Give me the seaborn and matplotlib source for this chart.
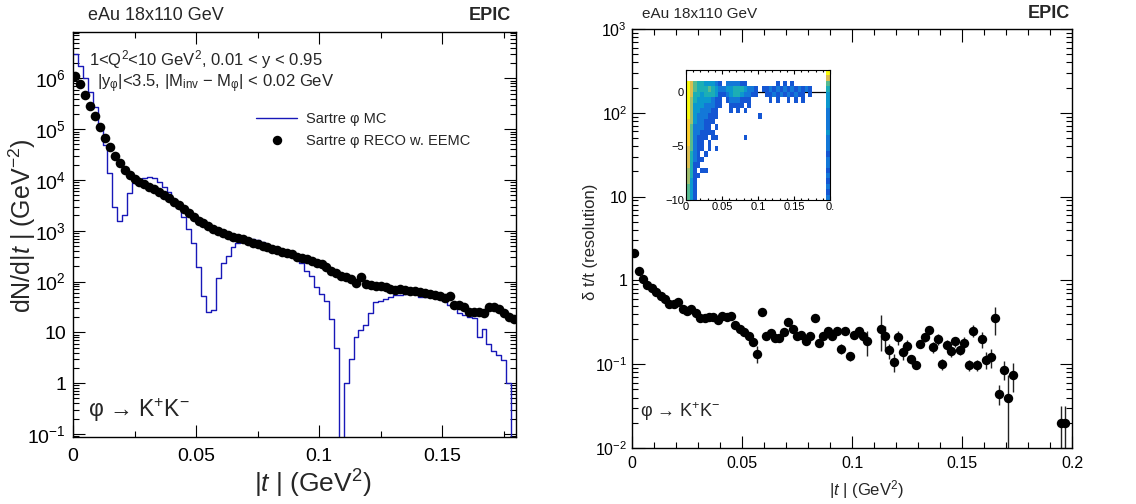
import numpy as np
import pandas as pd
import matplotlib
matplotlib.use("Agg")
import matplotlib.pyplot as plt
from matplotlib.lines import Line2D
from matplotlib.colors import LinearSegmentedColormap
from matplotlib.ticker import FixedLocator, FixedFormatter, LogLocator, MultipleLocator, NullFormatter
import seaborn as sns

# ---------------- left panel: dN/d|t|, 0.002 GeV^2 bins from 0 to 0.18 ----------------
t_bin_width = 0.002
n_bins = 90

# Sartre phi MC (blue histogram)
mc_counts = [3.0e6, 1.78e6, 1.0e6, 5.5e5, 2.7e5, 1.17e5, 4.9e4, 1.35e4, 2990, 1550,
             2040, 5620, 8590, 10300, 10800, 11600, 10800, 9000, 7400, 5890,
             4050, 2750, 1900, 1070, 568, 197, 51, 25, 28, 116,
             229, 320, 489, 568, 612, 661, 681, 661, 612, 525,
             432, 389, 363, 339, 316, 282, 229, 158, 126, 79,
             56, 42, 18, 5, 0, 1, 3, 8, 11, 14,
             24, 39, 42, 46, 50, 54, 55, 57, 59, 60,
             50, 50, 55, 49, 45, 41, 35, 32, 24, 22,
             20, 19, 8, 11.5, 6, 4.2, 3.6, 2.9, 1, 0]

# Sartre phi RECO w. EEMC (black points)
reco_counts = [1.14e6, 7.69e5, 4.74e5, 2.88e5, 1.83e5, 1.09e5, 6.85e4, 4.43e4, 2.96e4, 2.13e4,
               1.57e4, 1.25e4, 1.05e4, 9270, 8220, 7400, 6550, 5710, 4990, 4360,
               3750, 3220, 2690, 2280, 1900, 1580, 1410, 1240, 1100, 993,
               893, 815, 767, 723, 681, 641, 585, 542, 504, 473,
               446, 420, 389, 367, 345, 310, 292, 275, 255, 237,
               219, 197, 164, 146, 131, 125, 111, 95, 122, 89,
               85, 82, 80, 77, 71, 69, 73, 69, 65, 64,
               61, 59, 57, 54, 51, 48, 51, 34, 34, 32,
               25, 25, 25, 24, 31, 31, 29, 24, 20, 18]

# ---------------- right panel: delta t / t resolution ----------------
res_t = [0.001, 0.003, 0.005, 0.007, 0.009, 0.011, 0.013, 0.015, 0.017, 0.019,
         0.021, 0.023, 0.025, 0.027, 0.029, 0.031, 0.033, 0.035, 0.037, 0.039,
         0.041, 0.043, 0.045, 0.047, 0.049, 0.051, 0.053, 0.055, 0.057, 0.059,
         0.061, 0.063, 0.065, 0.067, 0.069, 0.071, 0.073, 0.075, 0.077, 0.079,
         0.081, 0.083, 0.085, 0.087, 0.089, 0.091, 0.093, 0.095, 0.097, 0.099,
         0.101, 0.103, 0.105, 0.107, 0.113, 0.115, 0.117, 0.119, 0.121, 0.123,
         0.125, 0.127, 0.129, 0.131, 0.133, 0.135, 0.137, 0.139, 0.141, 0.143,
         0.145, 0.147, 0.149, 0.151, 0.153, 0.155, 0.157, 0.159, 0.161, 0.163,
         0.165, 0.167, 0.169, 0.171, 0.173, 0.195, 0.197]
res_val = [2.12, 1.30, 1.05, 0.89, 0.81, 0.73, 0.645, 0.60, 0.53, 0.53,
           0.56, 0.45, 0.43, 0.46, 0.41, 0.356, 0.356, 0.366, 0.366, 0.333,
           0.372, 0.366, 0.38, 0.296, 0.263, 0.244, 0.219, 0.182, 0.133, 0.415,
           0.215, 0.235, 0.205, 0.205, 0.24, 0.318, 0.263, 0.215, 0.225, 0.187,
           0.215, 0.356, 0.179, 0.215, 0.25, 0.215, 0.25, 0.152, 0.246, 0.124,
           0.225, 0.246, 0.219, 0.187, 0.263, 0.215, 0.146, 0.106, 0.211, 0.138,
           0.166, 0.115, 0.0986, 0.176, 0.211, 0.253, 0.16, 0.20, 0.101, 0.171,
           0.142, 0.187, 0.149, 0.179, 0.097, 0.25, 0.097, 0.20, 0.113, 0.121,
           0.356, 0.0445, 0.086, 0.0395, 0.075, 0.02, 0.02]
res_err = [0.02, 0.02, 0.02, 0.02, 0.01, 0.01, 0.01, 0.01, 0.01, 0.01,
           0.01, 0.01, 0.01, 0.01, 0.01, 0.01, 0.01, 0.01, 0.01, 0.01,
           0.01, 0.01, 0.01, 0.01, 0.01, 0.01, 0.01, 0.015, 0.03, 0.02,
           0.015, 0.015, 0.015, 0.015, 0.015, 0.02, 0.02, 0.015, 0.02, 0.015,
           0.015, 0.02, 0.015, 0.015, 0.02, 0.02, 0.02, 0.02, 0.02, 0.015,
           0.02, 0.02, 0.03, 0.06, 0.12, 0.07, 0.03, 0.025, 0.04, 0.025,
           0.03, 0.015, 0.012, 0.02, 0.025, 0.03, 0.025, 0.03, 0.015, 0.025,
           0.02, 0.025, 0.02, 0.03, 0.015, 0.04, 0.015, 0.045, 0.025, 0.03,
           0.13, 0.012, 0.022, 0.035, 0.028, 0.012, 0.012]

# ---------------- inset: (t_reco - t_mc)/t_mc vs |t| ----------------
# coarse colour levels ('.' = empty, 1..9 = low..high)
# columns: |t| in 0.005 steps from 0 to 0.2, rows: 0.5 steps from +2 (top) to -10 (bottom)
inset_rows = [
    "......................................." + "9",
    "......................................." + "7",
    "9754433321" ".222211..." ".....1.1.1" ".........5",
    "9754445432" "2334443221" ".112121212" "12121....4",
    "9744344431" "1234432211" "..11212121" "211.1....3",
    "9643333211" ".1222111.." "...1.1..1." "1.1......3",
    "9633322211" "..1111.1.." ".........." ".........3",
    "963322211." "..1.1.1..." ".........." ".........2",
    "963222111." ".........." "1........." ".........2",
    "86322111.." ".........." ".........." ".........2",
    "8522211.1." ".........." ".........." ".........2",
    "85221111.." ".........." ".........." ".........3",
    "852111.11." "......1..." ".........." ".........2",
    "85211.1..." ".........." ".........." ".........2",
    "75211.1.1." ".........." ".........." ".........2",
    "7421.1...." ".........." ".........." ".........1",
    "74211....." ".........." ".........." ".........2",
    "7411......" ".........." ".........." ".........2",
    "641.11...." ".........." ".........." ".........1",
    "6411......" ".........." ".........." ".........2",
    "631......." ".........." ".........." ".........1",
    "531......." ".........." ".........." ".........2",
    "531......." ".........." ".........." ".........1",
    "531......." ".........." ".........." ".........2",
]

# ROOT kBird palette
bird = LinearSegmentedColormap.from_list("bird", [
    (0.2082, 0.1664, 0.5293), (0.0592, 0.3599, 0.8684), (0.0780, 0.5041, 0.8385),
    (0.0232, 0.6419, 0.7914), (0.1802, 0.7178, 0.6425), (0.5301, 0.7492, 0.4662),
    (0.8186, 0.7328, 0.3499), (0.9956, 0.7862, 0.1968), (0.9764, 0.9832, 0.0539)])

sns.set_theme(style="ticks")
plt.rcParams["font.family"] = ["Liberation Sans", "DejaVu Sans"]
plt.rcParams["mathtext.fontset"] = "custom"
plt.rcParams["mathtext.rm"] = "Liberation Sans"
plt.rcParams["mathtext.it"] = "Liberation Sans:italic"
plt.rcParams["mathtext.bf"] = "Liberation Sans:bold"
plt.rcParams["mathtext.default"] = "regular"

W, H = 1136, 504
fig = plt.figure(figsize=(W / 100, H / 100), dpi=100)


def px(x, y):
    return x / W, 1 - y / H


def root_frame(ax, major, minor, size):
    ax.tick_params(which="both", direction="in", top=True, right=True,
                   width=0.8, color="black", labelsize=size, labelcolor="black")
    ax.tick_params(which="major", length=major)
    ax.tick_params(which="minor", length=minor)
    for s in ax.spines.values():
        s.set_visible(True)
        s.set_color("black")
        s.set_linewidth(1.0)
    ax.set_facecolor("white")
    ax.grid(False)


edges = [round(i * t_bin_width, 4) for i in range(n_bins + 1)]
centers = np.array(edges[:-1]) + t_bin_width / 2
blue = "#1818b8"
mc_df = pd.DataFrame({"t": centers, "n": np.array(mc_counts, dtype=float)})

# ---- left panel ----
axL = fig.add_axes([73 / W, 67 / H, 443 / W, 405 / H])
sns.histplot(data=mc_df, x="t", weights="n", bins=edges,
             element="step", fill=False, color=blue, linewidth=1.0, ax=axL)
sns.scatterplot(x=centers, y=reco_counts, color="black", s=48, linewidth=0,
                legend=False, zorder=3, ax=axL)
axL.set_yscale("log")
axL.set_xlim(0, 0.18)
axL.set_ylim(0.087, 8.2e6)
axL.set_xlabel("")
axL.set_ylabel("")
dec_L = [1e-1, 1, 10, 1e2, 1e3, 1e4, 1e5, 1e6]
lab_L = ["$10^{-1}$", "1", "10", "$10^{2}$", "$10^{3}$", "$10^{4}$", "$10^{5}$", "$10^{6}$"]
axL.yaxis.set_major_locator(FixedLocator(dec_L))
axL.yaxis.set_major_formatter(FixedFormatter(lab_L))
axL.yaxis.set_minor_locator(LogLocator(base=10, subs=np.arange(2, 10), numticks=30))
axL.yaxis.set_minor_formatter(NullFormatter())
axL.xaxis.set_major_locator(FixedLocator([0, 0.05, 0.1, 0.15]))
axL.xaxis.set_major_formatter(FixedFormatter(["0", "0.05", "0.1", "0.15"]))
axL.xaxis.set_minor_locator(MultipleLocator(0.025))
root_frame(axL, 8.5, 4.3, 14)
axL.tick_params(axis="x", pad=8)
axL.tick_params(axis="y", pad=5)

handles = [Line2D([], [], color=blue, lw=1.0),
           Line2D([], [], color="black", marker="o", ls="none", markersize=6.8, markeredgewidth=0)]
axL.legend(handles, ["Sartre φ MC", "Sartre φ RECO w. EEMC"], loc="upper left",
           bbox_to_anchor=(0.397, 0.82), frameon=False, fontsize=10.5,
           handlelength=2.8, handletextpad=0.6, labelspacing=0.55, borderpad=0)

fig.text(*px(88, 16), "eAu 18x110 GeV", fontsize=13, va="center", ha="left")
fig.text(*px(511, 16), "EPIC", fontsize=13, fontweight="bold", va="center", ha="right")
fig.text(*px(89, 60), r"1<Q$^{2}$<10 GeV$^{2}$, 0.01 < y < 0.95", fontsize=12, va="center")
fig.text(*px(97, 84), r"|y$_{φ}$|<3.5, |M$_{inv}$ − M$_{φ}$| < 0.02 GeV", fontsize=12, va="center")
fig.text(*px(88, 410), r"φ → K$^{+}$K$^{-}$", fontsize=16.5, va="center")
fig.text(*px(313, 484), r"|$\mathit{t}$ | (GeV$^{2}$)", fontsize=19, va="center", ha="center")
fig.text(*px(22, 226), r"dN/d|$\mathit{t}$ | (GeV$^{-2}$)", fontsize=18, va="center",
         ha="center", rotation=90)

# ---- right panel ----
axR = fig.add_axes([632 / W, 56 / H, 440 / W, 419 / H])
axR.errorbar(res_t, res_val, yerr=res_err, fmt="none", ecolor="#222222", elinewidth=1.0, zorder=2)
sns.scatterplot(x=res_t, y=res_val, color="black", s=46, linewidth=0, legend=False,
                zorder=3, ax=axR)
axR.set_yscale("log")
axR.set_xlim(0, 0.2)
axR.set_ylim(1e-2, 1e3)
axR.set_xlabel("")
axR.set_ylabel("")
dec_R = [1e-2, 1e-1, 1, 10, 1e2, 1e3]
lab_R = ["$10^{-2}$", "$10^{-1}$", "1", "10", "$10^{2}$", "$10^{3}$"]
axR.yaxis.set_major_locator(FixedLocator(dec_R))
axR.yaxis.set_major_formatter(FixedFormatter(lab_R))
axR.yaxis.set_minor_locator(LogLocator(base=10, subs=np.arange(2, 10), numticks=30))
axR.yaxis.set_minor_formatter(NullFormatter())
axR.xaxis.set_major_locator(FixedLocator([0, 0.05, 0.1, 0.15, 0.2]))
axR.xaxis.set_major_formatter(FixedFormatter(["0", "0.05", "0.1", "0.15", "0.2"]))
axR.xaxis.set_minor_locator(MultipleLocator(0.01))
root_frame(axR, 9, 4.5, 11.5)
axR.tick_params(axis="x", pad=6)

fig.text(*px(642, 14), "eAu 18x110 GeV", fontsize=11, va="center", ha="left")
fig.text(*px(1070, 14), "EPIC", fontsize=13, fontweight="bold", va="center", ha="right")
fig.text(*px(640, 412), r"φ → K$^{+}$K$^{-}$", fontsize=13, va="center")
fig.text(*px(866, 490), r"|$\mathit{t}$ | (GeV$^{2}$)", fontsize=12, va="center", ha="center")
fig.text(*px(591, 242), "δ t/t (resolution)", fontsize=12, va="center", ha="center", rotation=90)

# ---- inset ----
axI = fig.add_axes([686 / W, 304 / H, 144 / W, 130 / H])
levels = np.array([[np.nan if c == "." else float(c) for c in row] for row in inset_rows])
levels = np.ma.masked_invalid(levels[::-1])
x_edges = np.linspace(0, 0.2, levels.shape[1] + 1)
y_edges = np.linspace(-10, 2, levels.shape[0] + 1)
axI.axhline(0, color="black", lw=0.9, zorder=1)
axI.pcolormesh(x_edges, y_edges, levels, cmap=bird, vmin=0, vmax=9, zorder=2)
axI.set_xlim(0, 0.2)
axI.set_ylim(-10, 2)
axI.xaxis.set_major_locator(FixedLocator([0, 0.05, 0.1, 0.15, 0.2]))
axI.xaxis.set_major_formatter(FixedFormatter(["0", "0.05", "0.1", "0.15", "0."]))
axI.xaxis.set_minor_locator(MultipleLocator(0.01))
axI.yaxis.set_major_locator(FixedLocator([-10, -5, 0]))
axI.yaxis.set_major_formatter(FixedFormatter(["−10", "−5", "0"]))
axI.yaxis.set_minor_locator(MultipleLocator(1))
root_frame(axI, 3, 1.5, 8)
axI.tick_params(pad=1.5)
for s in axI.spines.values():
    s.set_linewidth(0.8)

fig.savefig("out.png", dpi=100, facecolor="white")
